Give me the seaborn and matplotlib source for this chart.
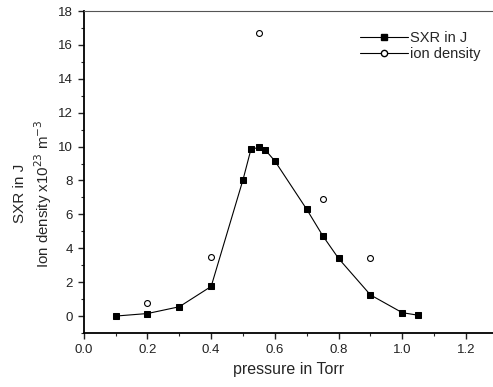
import matplotlib
matplotlib.use("Agg")
import numpy as np
import pandas as pd
import seaborn as sns
import matplotlib.pyplot as plt
from matplotlib.lines import Line2D
from matplotlib.ticker import MultipleLocator, FormatStrFormatter

# SXR yield vs pressure
sxr_pressure = [0.1, 0.2, 0.3, 0.4, 0.5, 0.525, 0.55, 0.57, 0.6, 0.7, 0.75, 0.8, 0.9, 1.0, 1.05]
sxr_values = [0.0, 0.15, 0.55, 1.75, 8.05, 9.85, 9.95, 9.8, 9.15, 6.3, 4.75, 3.4, 1.25, 0.2, 0.05]

# ion density (x10^23 m^-3)
ion_pressure = [0.2, 0.4, 0.55, 0.75, 0.9]
ion_values = [0.75, 3.5, 16.7, 6.9, 3.4]

sxr_df = pd.DataFrame({"pressure": sxr_pressure, "value": sxr_values})
ion_df = pd.DataFrame({"pressure": ion_pressure, "value": ion_values})

sns.set_style("ticks")
plt.rcParams['font.family'] = ['Liberation Sans', 'DejaVu Sans']

fig = plt.figure(figsize=(4.93, 3.87), dpi=100)
ax = fig.add_axes([0.170, 0.1395, 0.83, 0.832])

sns.lineplot(data=sxr_df, x="pressure", y="value", ax=ax, color="black",
             linewidth=0.8, marker="s", markersize=4.8, markeredgecolor="black",
             markerfacecolor="black", estimator=None, sort=False)
sns.scatterplot(data=ion_df, x="pressure", y="value", ax=ax, marker="o",
                s=18, facecolor="white", edgecolor="black", linewidth=0.8, zorder=3)

ax.set_xlim(0.0, 1.285)
ax.set_ylim(-1, 18)
ax.xaxis.set_major_locator(MultipleLocator(0.2))
ax.xaxis.set_minor_locator(MultipleLocator(0.1))
ax.yaxis.set_major_locator(MultipleLocator(2))
ax.yaxis.set_minor_locator(MultipleLocator(1))
ax.xaxis.set_major_formatter(FormatStrFormatter("%.1f"))

ax.tick_params(axis="both", which="major", direction="out", length=4, width=1,
               labelsize=9.5, colors="#222222", pad=4)
ax.tick_params(axis="both", which="minor", direction="out", length=2.5, width=0.8)

for side in ["left", "bottom"]:
    ax.spines[side].set_linewidth(1.3)
    ax.spines[side].set_color("black")
ax.spines["top"].set_linewidth(0.8)
ax.spines["top"].set_color("#555555")
ax.spines["right"].set_visible(False)

ax.set_xlabel("pressure in Torr", fontsize=11.5, labelpad=4)
ax.set_ylabel("")
fig.text(0.040, 0.5, "SXR in J", rotation=90, va="center", ha="center", fontsize=11)
fig.text(0.087, 0.5, r"Ion density x10$^{23}$ m$^{-3}$", rotation=90,
         va="center", ha="center", fontsize=10.8)

handles = [
    Line2D([], [], color="black", linewidth=0.8, marker="s", markersize=4.8,
           markerfacecolor="black", markeredgecolor="black"),
    Line2D([], [], color="black", linewidth=0.8, marker="o", markersize=4.5,
           markerfacecolor="white", markeredgecolor="black"),
]
ax.legend(handles, ["SXR in J", "ion density"], loc="upper left",
          bbox_to_anchor=(0.66, 0.955), frameon=False, fontsize=10.5,
          handlelength=3.3, handletextpad=0.15, labelspacing=0.1,
          borderaxespad=0.0, numpoints=1)

fig.savefig("out.png", dpi=100)
